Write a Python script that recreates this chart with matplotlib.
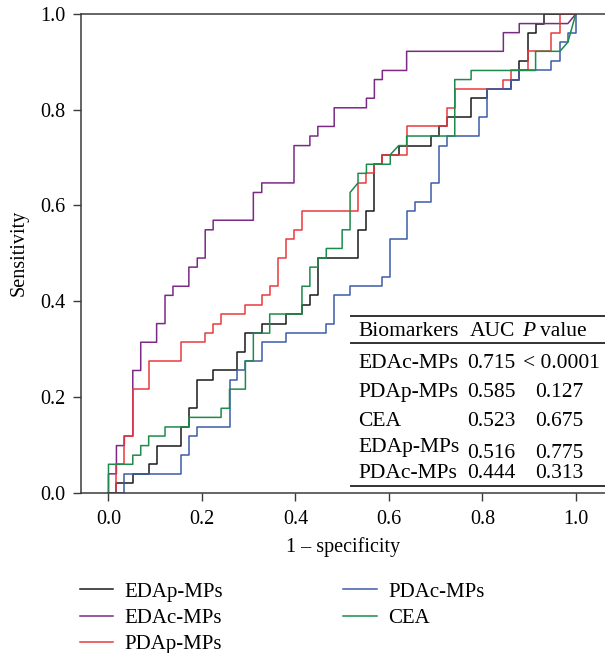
import matplotlib.pyplot as plt

plt.rcParams['font.family'] = ['Liberation Serif', 'DejaVu Serif']

# ROC curves: x = 1 - specificity, y = sensitivity
edap_fpr = [0, .017, .017, .052, .052, .086, .086, .103, .103, .155, .155, .172, .172, .190, .190, .224,
            .224, .276, .276, .293, .293, .328, .328, .379, .379, .414, .414, .431, .431, .448, .448, .534,
            .534, .552, .552, .569, .569, .586, .586, .621, .621, .690, .690, .707, .707, .724, .724, .776,
            .776, .810, .810, .862, .862, .879, .879, .897, .897, .914, .914, .931, .931, 1.0]
edap_tpr = [0, 0, .020, .020, .039, .039, .059, .059, .098, .098, .137, .137, .176, .176, .235, .235,
            .255, .255, .294, .294, .333, .333, .353, .353, .373, .373, .392, .392, .412, .412, .490, .490,
            .549, .549, .588, .588, .686, .686, .706, .706, .725, .725, .745, .745, .765, .765, .784, .784,
            .824, .824, .843, .843, .863, .863, .902, .902, .961, .961, .980, .980, 1.0, 1.0]

edac_fpr = [0, 0, .017, .017, .034, .034, .052, .052, .069, .069, .103, .103, .121, .121, .138, .138,
            .172, .172, .190, .190, .207, .207, .224, .224, .310, .310, .328, .328, .397, .397, .431, .431,
            .448, .448, .483, .483, .552, .552, .569, .569, .586, .586, .638, .638, .845, .845, .879, .879,
            .983, 1.0]
edac_tpr = [0, .039, .039, .098, .098, .118, .118, .255, .255, .314, .314, .353, .353, .412, .412, .431,
            .431, .471, .471, .490, .490, .549, .549, .569, .569, .627, .627, .647, .647, .725, .725, .745,
            .745, .765, .765, .804, .804, .824, .824, .863, .863, .882, .882, .922, .922, .961, .961, .980,
            .980, 1.0]

pdap_fpr = [0, .017, .017, .034, .034, .052, .052, .086, .086, .155, .155, .207, .207, .224, .224, .241,
            .241, .293, .293, .328, .328, .345, .345, .362, .362, .379, .379, .397, .397, .414, .414, .534,
            .534, .552, .552, .569, .569, .586, .586, .638, .638, .724, .724, .741, .741, .845, .845, .862,
            .862, .897, .897, .948, .948, .966, .966, 1.0]
pdap_tpr = [0, 0, .059, .059, .118, .118, .216, .216, .275, .275, .314, .314, .333, .333, .353, .353,
            .373, .373, .392, .392, .412, .412, .431, .431, .490, .490, .529, .529, .549, .549, .588, .588,
            .647, .647, .667, .667, .686, .686, .706, .706, .765, .765, .804, .804, .843, .843, .863, .863,
            .882, .882, .922, .922, .961, .961, 1.0, 1.0]

pdac_fpr = [0, .034, .034, .155, .155, .172, .172, .190, .190, .259, .259, .276, .276, .293, .293, .328,
            .328, .379, .379, .466, .466, .483, .483, .517, .517, .586, .586, .603, .603, .638, .638, .655,
            .655, .690, .690, .707, .707, .724, .724, .793, .793, .810, .810, .862, .862, .879, .879, .948,
            .948, .966, .966, .983, .983, 1.0, 1.0]
pdac_tpr = [0, 0, .039, .039, .078, .078, .118, .118, .137, .137, .235, .235, .255, .255, .275, .275,
            .314, .314, .333, .333, .353, .353, .412, .412, .431, .431, .451, .451, .529, .529, .588, .588,
            .608, .608, .647, .647, .725, .725, .745, .745, .784, .784, .843, .843, .863, .863, .882, .882,
            .902, .902, .941, .941, .961, .961, 1.0]

cea_fpr = [0, 0, .052, .052, .069, .069, .086, .086, .121, .121, .172, .172, .241, .241, .259, .259,
           .293, .293, .310, .310, .345, .345, .414, .414, .431, .431, .448, .448, .466, .466, .500, .500,
           .517, .517, .534, .534, .552, .552, .603, .603, .621, .638, .638, .741, .741, .776, .776, .914,
           .914, .966, .983, 1.0]
cea_tpr = [0, .059, .059, .078, .078, .098, .098, .118, .118, .137, .137, .157, .157, .176, .176, .216,
           .216, .275, .275, .333, .333, .373, .373, .431, .431, .471, .471, .490, .490, .510, .510, .549,
           .549, .627, .647, .667, .667, .686, .686, .706, .725, .725, .745, .745, .863, .863, .882, .882,
           .922, .922, .941, 1.0]

curve_names = ['EDAp-MPs', 'EDAc-MPs', 'PDAp-MPs', 'PDAc-MPs', 'CEA']
curve_colors = ['#1a1a1a', '#7a2a85', '#ea3a3e', '#3d5ca8', '#1e8a4c']

# summary table
biomarkers = ['EDAc-MPs', 'PDAp-MPs', 'CEA', 'EDAp-MPs', 'PDAc-MPs']
auc_values = ['0.715', '0.585', '0.523', '0.516', '0.444']
p_values = ['< 0.0001', '0.127', '0.675', '0.775', '0.313']

curves = [(edap_fpr, edap_tpr), (edac_fpr, edac_tpr), (pdap_fpr, pdap_tpr),
          (pdac_fpr, pdac_tpr), (cea_fpr, cea_tpr)]

fs = 14.5
fs_tab = 15.5
spine_col = '#3a3a3a'

fig = plt.figure(figsize=(6.05, 6.53), dpi=100)
ax = fig.add_axes([81/605, 1-492.5/653, 524/605, 478.5/653])

handles = []
for (x, y), name, col in zip(curves, curve_names, curve_colors):
    h, = ax.plot(x, y, color=col, lw=1.1, label=name)
    handles.append(h)

ax.set_xlim(-0.0588, 1.0625)
ax.set_ylim(0, 1)
ax.set_xticks([0, 0.2, 0.4, 0.6, 0.8, 1.0])
ax.set_yticks([0, 0.2, 0.4, 0.6, 0.8, 1.0])
ax.set_xticklabels(['%.1f' % v for v in ax.get_xticks()])
ax.set_yticklabels(['%.1f' % v for v in ax.get_yticks()])
ax.tick_params(direction='out', length=5.5, width=1.0, color=spine_col, labelsize=fs, pad=6)
ax.tick_params(axis='x', pad=7)
for s in ['left', 'bottom', 'top']:
    ax.spines[s].set_color(spine_col)
    ax.spines[s].set_linewidth(1.1)
ax.spines['right'].set_visible(False)

ax.set_xlabel('1 \u2013 specificity', fontsize=fs, labelpad=6)
ax.set_ylabel('Sensitivity', fontsize=fs, labelpad=8)

# table inside the plot (axes coordinates)
tr = ax.transAxes
for yl in [0.3689, 0.3130, 0.0142]:
    ax.plot([0.5147, 1.0], [yl, yl], color='#333333', lw=1.4, transform=tr, clip_on=False)

ax.text(0.5292, 0.3271, 'Biomarkers', transform=tr, fontsize=fs_tab, va='baseline')
ax.text(0.741, 0.3271, 'AUC', transform=tr, fontsize=fs_tab, va='baseline')
ax.text(0.841, 0.3271, 'P', transform=tr, fontsize=fs_tab, va='baseline', style='italic')
ax.text(0.875, 0.3271, 'value', transform=tr, fontsize=fs_tab, va='baseline')

name_y = [0.2608, 0.2002, 0.1396, 0.0840, 0.0297]
num_y = [0.2608, 0.2002, 0.1396, 0.0715, 0.0297]
for i in range(len(biomarkers)):
    ax.text(0.5292, name_y[i], biomarkers[i], transform=tr, fontsize=fs_tab, va='baseline')
    ax.text(0.736, num_y[i], auc_values[i], transform=tr, fontsize=fs_tab, va='baseline')
    px = 0.8426 if p_values[i].startswith('<') else 0.866
    ax.text(px, num_y[i], p_values[i], transform=tr, fontsize=fs_tab, va='baseline')

fig.legend(handles=handles, labels=curve_names, loc='upper left',
           bbox_to_anchor=(80/605, 1-582/653), ncol=2, frameon=False,
           fontsize=15, handlelength=1.6, handletextpad=0.55, columnspacing=5.75,
           labelspacing=0.33, borderpad=0, borderaxespad=0)

fig.savefig('out.png', dpi=100)
